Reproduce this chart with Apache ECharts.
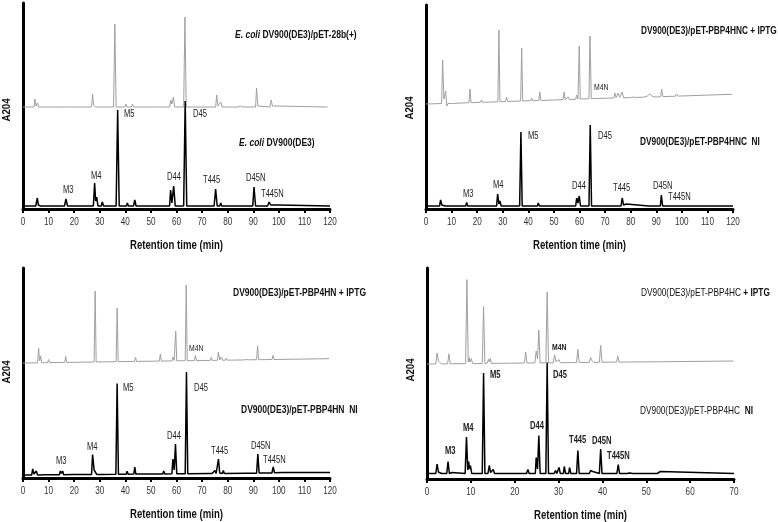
<!DOCTYPE html>
<html><head><meta charset="utf-8">
<script src="https://cdn.jsdelivr.net/npm/echarts@6/dist/echarts.min.js"></script>
<style>html,body{margin:0;padding:0;background:#fff}#c{width:778px;height:522px}</style>
</head><body><div id="c"></div>
<script>
// ---------- DATA (retention time min, relative A204) ----------
const xTicks1 = [0,10,20,30,40,50,60,70,80,90,100,110,120];
const xTicks4 = [0,10,20,30,40,50,60,70];
const xTitle = 'Retention time (min)';
const yTitle = 'A204';

// Panel 1: E. coli DV900(DE3) (black) and /pET-28b(+) (grey)
const p1Black = [[0,3],[5.0,3],[5.6,11],[6.0,4],[6.3,6],[6.8,3],[9.5,3],[9.8,4],[10.2,3],[16.2,3],[16.8,10],[17.4,3],[24.8,3],[25.2,5],[25.6,3],[27.5,3],[28.0,26],[28.4,8],[28.8,12],[29.3,3],[30.6,3],[31.0,7],[31.5,3],[36.4,3],[37.0,99],[37.6,3],[40.4,3],[40.8,6],[41.2,3],[43.2,3],[43.7,9],[44.2,3],[54,3],[54.5,5],[55,3],[55.5,4],[56,3],[57.3,3],[57.7,19],[58.2,6],[58.9,23],[59.5,3],[62.8,3],[63.4,108],[64.0,3],[72,3],[72.5,4],[73,3],[74.7,3],[75.3,20],[75.9,3],[76.9,3],[77.3,6],[77.7,3],[89.8,3],[90.3,22],[90.9,3],[95.6,3],[96.2,7],[96.8,4],[97.5,3],[100,4],[100.5,3],[120,3]];
const p1Grey = [[0,3],[4.3,3],[4.7,11],[5.1,4],[5.7,7],[6.1,3],[8.2,3],[8.5,5],[8.8,3],[15.3,3],[15.7,5],[16.1,3],[26.8,3],[27.2,16],[27.6,5],[28.0,7],[28.4,3],[29.7,3],[30.1,5],[30.5,3],[35.4,3],[35.9,86],[36.4,3],[39.8,3],[40.2,6],[40.6,3],[42.4,3],[42.8,6],[43.2,3],[52,3],[52.5,4],[53,3],[57.3,3],[57.8,10],[58.2,6],[58.8,13],[59.3,3],[62.8,3],[63.3,93],[63.8,3],[75.3,3],[75.7,15],[76.2,4],[77.3,8],[77.8,3],[84,3],[85,4],[86,3],[90.9,3],[91.3,22],[91.8,4],[96.5,3],[97.0,10],[97.5,4],[98.5,4],[99,3],[119,3]];

// Panel 2: DV900(DE3)/pET-PBP4HNC NI (black) and + IPTG (grey)
const p2Black = [[0,3],[5.3,3],[5.7,9],[6.2,4],[6.9,6],[7.4,3],[15.5,3],[15.9,6.5],[16.3,3],[27.6,3],[28.0,15],[28.5,5],[28.9,8],[29.4,3],[30.8,3],[31.2,5],[31.6,3],[36.6,3],[37.1,77],[37.6,3],[40.7,3],[41,4],[41.3,3],[43.5,3],[43.9,6],[44.3,3],[55.9,3],[56.3,4],[56.7,3],[58.5,3],[58.9,11],[59.4,6],[59.9,13],[60.4,3],[63.7,3],[64.2,84],[64.7,3],[72.5,3],[73,4],[73.5,3],[76.2,3],[76.7,11],[77.2,4],[78.3,5],[78.7,3],[87,3],[87.5,4],[88,3],[91.6,3],[92.0,14],[92.5,3],[97.4,3],[97.9,5],[98.4,3],[120,3]];
const p2Grey = [[0,3],[6.1,3.5],[6.5,47],[7.0,8],[7.7,16],[8.1,1],[8.6,3.5],[10.0,3.5],[10.3,5],[10.7,3.7],[16.8,4.3],[17.2,18],[17.6,4.3],[21.3,4.7],[21.7,7],[22.1,4.7],[28.1,5.2],[28.5,77],[28.9,5.2],[31.1,5.5],[31.5,10],[31.9,5.5],[37.0,6],[37.4,59],[37.8,6],[40.9,6.3],[41.3,9],[41.7,6.3],[44.1,6.5],[44.5,15],[44.9,6.5],[49.3,7],[49.7,8],[50.1,7],[53.6,7.3],[54.0,15],[54.4,7.5],[55.6,10],[56,7.5],[58.5,7.7],[58.9,12],[59.4,8],[59.9,61],[60.3,8],[63.7,8.3],[64.1,71],[64.6,8.3],[67.2,8.5],[67.6,10.5],[68,8.6],[73.4,9],[73.8,14],[74.3,9.5],[75.1,14],[75.7,9.6],[76.7,15],[77.2,9.2],[80,9.4],[81,10],[82,9.5],[85,9.8],[86.5,11],[87.5,13],[88.3,11],[89,12],[89.5,10],[91.7,10.3],[92.1,18],[92.6,10.4],[97.5,10.8],[97.9,13],[98.4,10.9],[119.7,12.7]];

// Panel 3: DV900(DE3)/pET-PBP4HN NI (black) and + IPTG (grey)
const p3Black = [[0,3],[3.4,3.1],[3.8,9],[4.3,4],[5.2,7],[5.7,3.1],[7.0,3.1],[7.4,4],[7.8,3.2],[14.2,3.3],[14.6,7],[15.0,4.5],[15.5,7],[15.9,3.3],[19.6,3.4],[20,4.5],[20.4,3.4],[26.8,3.5],[27.2,23.5],[27.8,8],[28.3,9.5],[28.8,3.6],[29.9,3.6],[30.3,5.6],[30.7,3.6],[36.3,3.7],[36.8,94.5],[37.3,3.7],[40.3,3.8],[40.7,6.8],[41.1,3.8],[43.3,3.9],[43.7,11],[44.1,3.9],[54.6,4.1],[55,7],[55.4,4.1],[58.2,4.2],[58.6,19],[59.1,8],[59.6,34],[60.1,4.2],[63.4,4.3],[63.9,106],[64.4,4.3],[73.1,4.5],[73.5,6.5],[73.9,4.5],[74.6,4.5],[75,7.5],[75.5,4.5],[75.9,4.5],[76.4,19],[76.9,5],[77.9,4.6],[78.3,7.5],[78.7,4.6],[87.5,4.8],[87.9,6],[88.3,4.8],[91.3,4.8],[91.8,24],[92.3,4.9],[97.3,5],[97.8,11],[98.3,5.2],[99,5],[101.5,5.5],[102,5],[120,5.5]];
const p3Grey = [[0,3],[5.7,3.2],[6.1,18],[6.5,5],[6.9,10],[7.3,3.3],[9.6,3.3],[10,6.4],[10.4,3.4],[16.3,3.6],[16.7,9.6],[17.1,3.6],[27.8,4],[28.2,75],[28.6,4],[30.6,4.1],[31,6.1],[31.4,4.1],[36.4,4.3],[36.8,58],[37.2,4.3],[43.6,4.6],[44,8.6],[44.4,4.6],[53.3,4.9],[53.7,12],[54.1,4.9],[58.2,5.1],[58.6,9],[59.1,5.5],[59.7,35],[60.1,5.2],[63.4,5.3],[63.8,81],[64.2,5.3],[67.0,5.4],[67.4,10.4],[67.8,5.4],[73.2,5.6],[73.6,8.6],[74,5.6],[76.0,5.7],[76.4,14],[76.9,6],[77.5,9],[78,5.8],[79.1,5.8],[79.5,8],[79.9,5.8],[86.5,6.1],[87,8],[87.5,6.5],[88,8],[88.5,6.2],[91.3,6.3],[91.7,20],[92.1,6.3],[97.3,6.5],[97.7,10.5],[98.1,6.5],[119.6,7.3]];

// Panel 4: DV900(DE3)/pET-PBP4HC NI (black) and + IPTG (grey)
const p4Black = [[0,5.5],[2.0,5.5],[2.3,15],[2.6,7],[3.0,9],[3.3,5.5],[4.5,5.5],[4.8,17.5],[5.1,5.5],[5.5,5.5],[5.7,6.5],[5.9,5.5],[8.7,5.5],[9.0,42],[9.3,9],[9.5,17.5],[9.7,10],[9.9,13.5],[10.2,5.5],[12.6,5.5],[12.9,106],[13.2,5.5],[13.9,5.5],[14.2,13.5],[14.5,6.5],[15.1,9.5],[15.4,5.5],[16.5,5.5],[16.8,7.5],[17.1,5.5],[22.7,5.5],[23.0,9.5],[23.3,5.5],[24.7,5.5],[24.9,21.5],[25.2,10],[25.5,43.5],[25.8,5.5],[27.1,5.5],[27.4,116.5],[27.7,5.5],[29.0,5.5],[29.3,8.5],[29.6,5.5],[29.9,5.5],[30.1,11.5],[30.4,5.5],[31.1,5.5],[31.3,12.5],[31.6,5.5],[32.3,5.5],[32.5,11.5],[32.8,5.5],[34.1,5.5],[34.4,28.5],[34.7,5.5],[37.0,5.5],[37.3,8.5],[37.6,6.5],[37.8,7.5],[38.1,5.5],[39.3,5.5],[39.6,30],[39.9,5.5],[42.0,5.5],[42.3,7.5],[42.6,5.5],[43.3,5.5],[43.6,14.5],[43.9,5.5],[45.6,5.5],[45.8,7.5],[46.2,6],[46.6,7.5],[46.9,5.5],[51.8,5.5],[52.1,6.5],[52.5,5.5],[52.9,5.5],[53.2,7.5],[53.5,5.5],[70,5.5]];
const p4Grey = [[0,3],[2.0,3.1],[2.3,14],[2.6,6],[3.0,8],[3.3,3.1],[4.7,3.2],[5.0,13.2],[5.3,3.2],[8.8,3.4],[9.1,87.4],[9.4,5],[9.6,9.4],[9.8,5],[10.1,8.4],[10.4,3.4],[12.6,3.5],[12.9,60.5],[13.2,3.6],[13.7,3.6],[14.0,7.6],[14.2,5],[14.4,8.6],[14.7,3.6],[16.6,3.7],[16.9,4.7],[17.2,3.7],[18.5,3.8],[18.8,4.8],[19.1,3.8],[22.2,4],[22.5,15],[22.8,4],[24.6,4.1],[24.9,16],[25.2,8],[25.5,37],[25.8,4.1],[27.1,4.2],[27.4,75],[27.7,4.2],[28.8,4.2],[29.1,12.2],[29.4,5.5],[30.1,7.3],[30.4,4.3],[31.3,4.3],[31.6,6.3],[31.9,4.4],[32.6,4.4],[32.9,6.4],[33.2,4.4],[34.1,4.5],[34.4,17.5],[34.7,4.5],[37.0,4.6],[37.3,9.6],[37.5,7],[37.7,8.6],[38,4.6],[39.3,4.7],[39.6,21.7],[39.9,4.7],[43.2,4.9],[43.5,10.9],[43.8,4.9],[46.1,5],[46.4,7],[46.7,5],[51.8,5.2],[52.1,6.2],[52.4,5.2],[69.9,6]];

// ---------- LAYOUT ----------
const FONT = '"Liberation Sans",Arial,Helvetica,sans-serif';
const panels = [
  {left:23, top:3, width:307, height:206, xMax:120, ticks:xTicks1, black:p1Black, grey:p1Grey, greyOffset:99, yT:110},
  {left:426, top:5, width:307, height:204, xMax:120, ticks:xTicks1, black:p2Black, grey:p2Grey, greyOffset:102, yT:108},
  {left:23, top:268, width:307, height:210, xMax:120, ticks:xTicks1, black:p3Black, grey:p3Grey, greyOffset:112, yT:372},
  {left:427, top:268, width:307, height:211, xMax:70, ticks:xTicks4, black:p4Black, grey:p4Grey, greyOffset:112, yT:370}
];

const grid=[], xAxis=[], yAxis=[], series=[];
panels.forEach((p,i)=>{
  grid.push({left:p.left, top:p.top, width:p.width, height:p.height, containLabel:false});
  xAxis.push({type:'value', gridIndex:i, min:0, max:p.xMax, interval:10,
    axisLine:{show:true, onZero:false, lineStyle:{color:'#000', width:3}},
    axisTick:{show:true, inside:false, length:4, lineStyle:{color:'#000', width:2}},
    axisLabel:{show:false}, splitLine:{show:false}});
  yAxis.push({type:'value', gridIndex:i, min:0, max:p.height,
    axisLine:{show:true, lineStyle:{color:'#000', width:3}},
    axisTick:{show:false}, axisLabel:{show:false}, splitLine:{show:false}});
  series.push({type:'line', xAxisIndex:i, yAxisIndex:i, data:p.grey.map(d=>[d[0], d[1]+p.greyOffset]),
    showSymbol:false, symbol:'none', smooth:false, lineStyle:{color:'#a0a0a0', width:1}, z:2});
  series.push({type:'line', xAxisIndex:i, yAxisIndex:i, data:p.black,
    showSymbol:false, symbol:'none', smooth:false, lineStyle:{color:'#000', width:1.5}, z:3});
});

function txt(x,y,text,opt){
  opt=opt||{};
  return {type:'text', x:x, y:y, silent:true, scaleX:opt.sx||0.76, rotation:opt.rot||0,
    style:{text:text, fontFamily:FONT, fontSize:opt.size||10, fontWeight:opt.bold?'bold':'normal',
      fill:opt.color||'#222', verticalAlign:'middle', align:opt.align||'left', rich:opt.rich}};
}
const rich = {i:{fontStyle:'italic', fontWeight:'bold', fontFamily:FONT, fontSize:10.5, fill:'#111'},
              b:{fontWeight:'bold', fontFamily:FONT, fontSize:10.5, fill:'#111'},
              n:{fontWeight:'normal', fontFamily:FONT, fontSize:10.5, fill:'#111'}};
const T = {sx:0.81, rich:rich};
const T2 = {sx:0.79, rich:rich};
const graphic = [
  // panel 1
  txt(235,35,'{i|E. coli}{b| DV900(DE3)/pET-28b(+)}',T),
  txt(239,143,'{i|E. coli}{b| DV900(DE3)}',T),
  txt(124,114,'M5'),txt(193,114,'D45'),txt(63,190,'M3'),txt(91,176,'M4'),
  txt(167,177,'D44'),txt(203,180,'T445'),txt(246,178,'D45N'),txt(261,194,'T445N'),
  // panel 2
  txt(641,31,'{b|DV900(DE3)/pET-PBP4HNC + IPTG}',T2),
  txt(594,88,'M4N',{size:9}),
  txt(528,136,'M5'),txt(598,136,'D45'),
  txt(640,142,'{b|DV900(DE3)/pET-PBP4HNC  NI}',T2),
  txt(463,194,'M3'),txt(493,185,'M4'),txt(572,186,'D44'),txt(613,188,'T445'),txt(653,186,'D45N'),txt(668,197,'T445N'),
  // panel 3
  txt(233,293,'{b|DV900(DE3)/pET-PBP4HN + IPTG}',T),
  txt(189,349,'M4N',{size:9}),
  txt(123,388,'M5'),txt(194,388,'D45'),
  txt(241,410,'{b|DV900(DE3)/pET-PBP4HN  NI}',T),
  txt(56,461,'M3'),txt(87,447,'M4'),txt(167,436,'D44'),txt(211,451,'T445'),txt(251,446,'D45N'),txt(263,460,'T445N'),
  // panel 4
  txt(641,293,'{n|DV900(DE3)/pET-PBP4HC }{b|+ IPTG}',T2),
  txt(552,348,'M4N',{size:9,bold:true}),
  txt(490,375,'M5',{bold:true}),txt(553,375,'D45',{bold:true}),
  txt(640,411,'{n|DV900(DE3)/pET-PBP4HC  }{b|NI}',T2),
  txt(445,451,'M3',{bold:true}),txt(463,428,'M4',{bold:true}),txt(530,426,'D44',{bold:true}),
  txt(569,440,'T445',{bold:true}),txt(592,441,'D45N',{bold:true}),txt(607,456,'T445N',{bold:true})
];

const chart = echarts.init(document.getElementById('c'), null, {renderer:'canvas'});
chart.setOption({animation:false, backgroundColor:'#fff', grid, xAxis, yAxis, series});

// tick labels and axis titles, positioned through the library's scales
panels.forEach((p,i)=>{
  const base = chart.convertToPixel({xAxisIndex:i, yAxisIndex:i}, [0,0]);
  const axisY = base[1];
  p.ticks.forEach(t=>{
    const px = chart.convertToPixel({xAxisIndex:i}, t);
    graphic.push(txt(px, axisY+13, String(t), {size:11, sx:0.74, align:'center', color:'#333'}));
  });
  const mid = chart.convertToPixel({xAxisIndex:i}, p.xMax/2);
  graphic.push(txt(mid, axisY+36, xTitle, {size:13, bold:true, sx:0.74, align:'center', color:'#111'}));
  graphic.push(txt(p.left-16, p.yT, yTitle, {size:11, bold:true, sx:0.88, rot:Math.PI/2, align:'center', color:'#111'}));
});
chart.setOption({graphic:graphic});
</script></body></html>
